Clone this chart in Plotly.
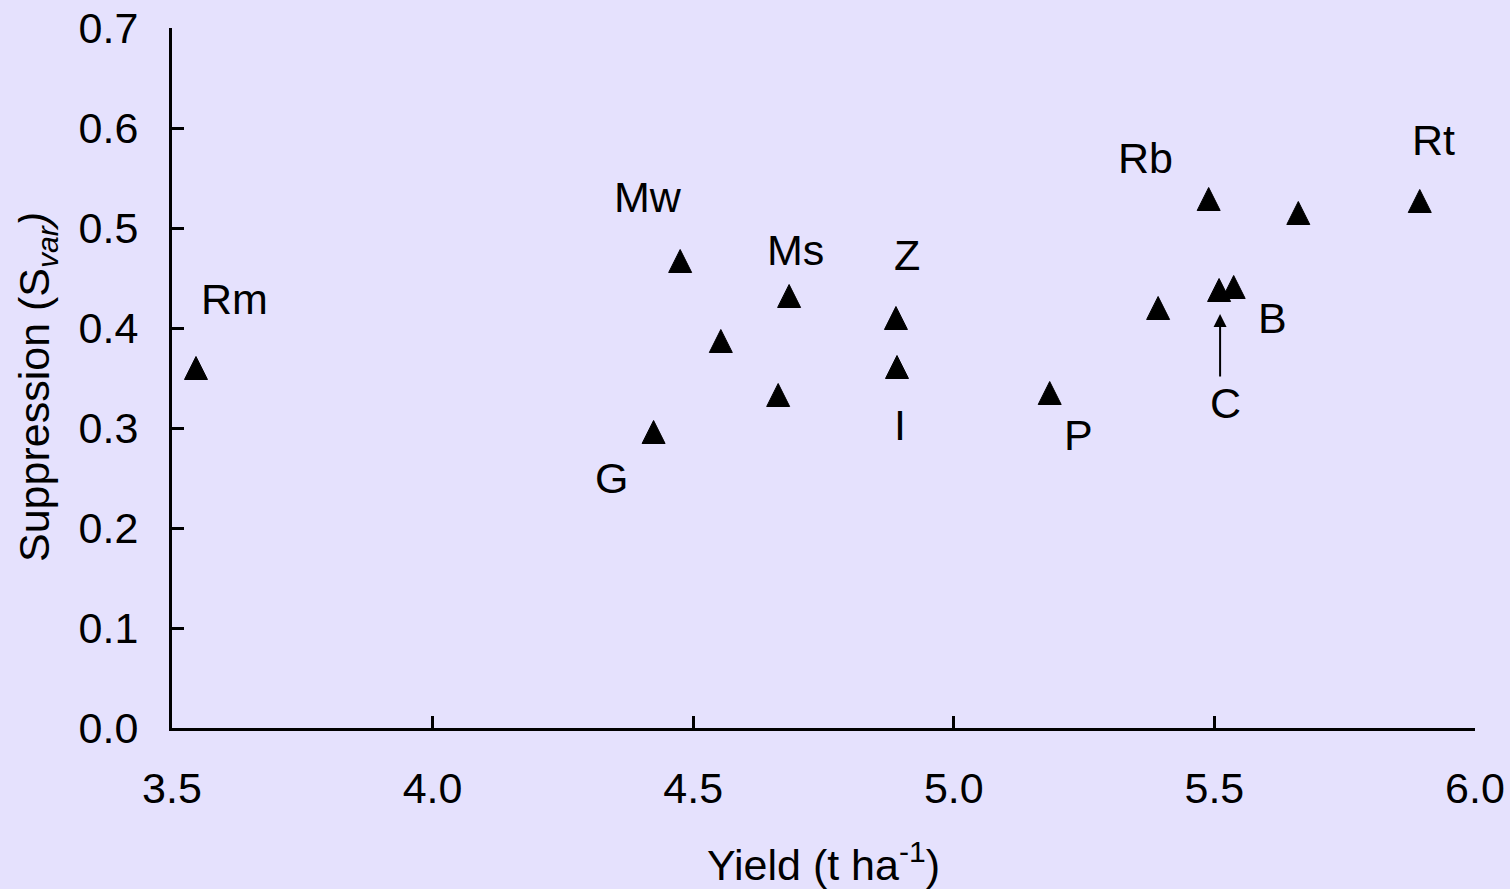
import plotly.graph_objects as go

# Yield vs. suppression for each variety
yield_t_ha = [3.546, 4.424, 4.475, 4.553, 4.663, 4.684, 4.889, 4.891, 5.184,
              5.392, 5.489, 5.509, 5.537, 5.661, 5.894]
suppression = [0.360, 0.296, 0.467, 0.387, 0.333, 0.432, 0.410, 0.361, 0.335,
               0.420, 0.529, 0.438, 0.441, 0.515, 0.527]
variety = ["Rm", "G", "Mw", "", "", "Ms", "Z", "I", "P",
           "", "Rb", "C", "B", "", "Rt"]

# label offsets from the marker, in pixels (dx right, dy down)
label_offset = {
    "Rm": (39, -69), "Mw": (-32, -64), "Ms": (6, -46), "Z": (11, -63),
    "I": (3, 58), "P": (29, 42), "G": (-42, 46), "Rb": (-63, -41),
    "Rt": (14, -61), "B": (39, 31), "C": (6, 113),
}

FONT = "Liberation Sans, Arial, sans-serif"
FS = 43
BG = "#E5E1FD"
MSIZE = 23

fig = go.Figure()
fig.add_trace(go.Scatter(
    x=yield_t_ha, y=suppression, mode="markers",
    # solid upward triangle, centred on the value
    marker=dict(symbol="arrow-down", angle=180, size=MSIZE, color="black",
                standoff=MSIZE / 2, line=dict(color="black", width=1)),
    showlegend=False, hoverinfo="skip",
))

annotations = []
for xv, yv, name in zip(yield_t_ha, suppression, variety):
    if not name:
        continue
    dx, dy = label_offset[name]
    annotations.append(dict(
        x=xv, y=yv, xref="x", yref="y", text=name, showarrow=False,
        xshift=dx, yshift=-dy, xanchor="center", yanchor="middle",
        font=dict(family=FONT, size=FS, color="black"),
    ))
    if name == "C":
        # arrow pointing from the C label up to its marker
        annotations.append(dict(
            x=xv, y=yv, xref="x", yref="y", text="", showarrow=True,
            axref="pixel", ayref="pixel", ax=0, ay=64,
            xshift=1, yshift=-24,
            arrowhead=2, arrowsize=1.3, arrowwidth=2, arrowcolor="black",
        ))

# y-axis title, placed as rotated text left of the tick labels
annotations.append(dict(
    x=0, y=0.5, xref="paper", yref="paper", xanchor="center", yanchor="middle",
    xshift=-135, yshift=-9, textangle=-90, showarrow=False,
    text="Suppression (S<sub><i>var</i></sub><i>)</i>",
    font=dict(family=FONT, size=FS, color="black"),
))

fig.update_layout(
    width=1510, height=889,
    paper_bgcolor=BG, plot_bgcolor=BG,
    margin=dict(l=172, r=35, t=28, b=161, autoexpand=False),
    font=dict(family=FONT, size=FS, color="black"),
    annotations=annotations,
    xaxis=dict(
        range=[3.5, 6.0], tickvals=[3.5, 4.0, 4.5, 5.0, 5.5, 6.0],
        ticktext=["3.5", "4.0", "4.5", "5.0", "5.5", "6.0"],
        showline=True, linecolor="black", linewidth=3,
        ticks="inside", ticklen=12, tickwidth=3, tickcolor="black",
        showgrid=False, zeroline=False, ticklabelstandoff=20,
        automargin=False,
        title=dict(text="Yield (t ha<sup>-1</sup>)", standoff=51,
                   font=dict(family=FONT, size=FS)),
    ),
    yaxis=dict(
        range=[0, 0.7], tickvals=[0, 0.1, 0.2, 0.3, 0.4, 0.5, 0.6, 0.7],
        ticktext=["0.0", "0.1", "0.2", "0.3", "0.4", "0.5", "0.6", "0.7"],
        showline=True, linecolor="black", linewidth=3,
        ticks="inside", ticklen=12, tickwidth=3, tickcolor="black",
        showgrid=False, zeroline=False, ticklabelstandoff=22,
        automargin=False,
    ),
)

fig.write_html("out.html")
